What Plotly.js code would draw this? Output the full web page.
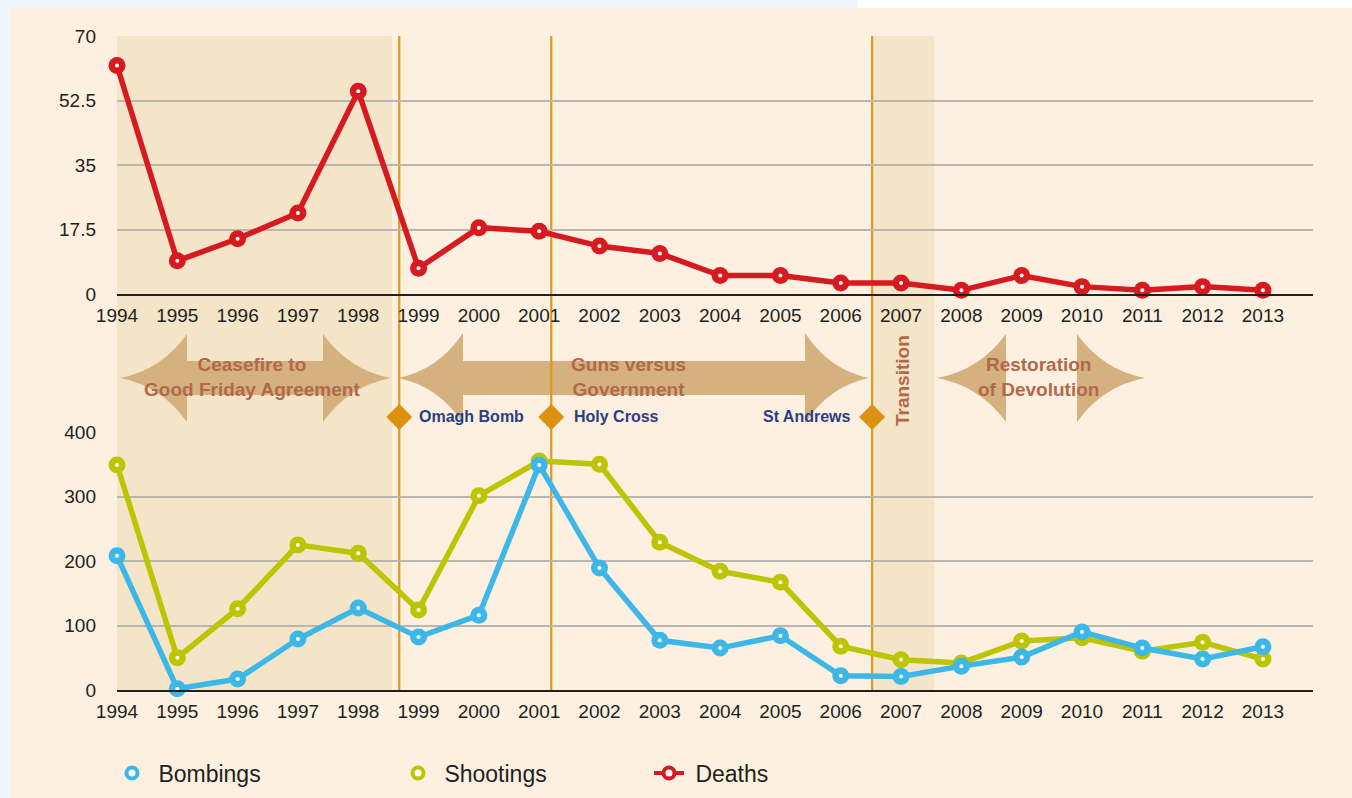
<!DOCTYPE html>
<html><head><meta charset="utf-8">
<script src="https://cdn.plot.ly/plotly-3.0.1.min.js"></script>
<style>html,body{margin:0;padding:0;background:#eef7fe;}#chart{width:1352px;height:798px;}</style>
</head><body><div id="chart"></div>
<script>
// ---- data ----
const years = [1994,1995,1996,1997,1998,1999,2000,2001,2002,2003,2004,2005,2006,2007,2008,2009,2010,2011,2012,2013];
const deaths = [62,9,15,22,55,7,18,17,13,11,5,5,3,3,1,5,2,1,2,1];
const shootings = [349,50,126,225,212,124,301,355,350,229,184,167,68,47,42,76,81,60,74,48];
const bombings = [208,2,17,79,127,82,116,349,189,77,65,84,22,21,37,51,90,65,48,67];
const deathTicks = [0,17.5,35,52.5,70];
const deathTickText = ['0','17.5','35','52.5','70'];
const incidentTicks = [0,100,200,300,400];
const incidentTickText = ['0','100','200','300','400'];
const seriesNames = ['Bombings','Shootings','Deaths'];
const eventNames = ['Omagh Bomb','Holy Cross','St Andrews'];
const eventYears = [1998.68,2001.2,2006.52];
const periodLabels = ['Ceasefire to<br>Good Friday Agreement','Guns versus<br>Government','Restoration<br>of Devolution'];
const shadedStarts = [1994,2006.52];
const shadedEnds = [1998.56,2007.55];

// ---- layout helpers (pixel -> paper) ----
const L=117,R=1313,T=36,B=690,W=R-L,H=B-T;
const px=x=>(x-L)/W, py=y=>(B-y)/H;
const P=(x,y)=>px(x)+','+py(y);
const FONT='Liberation Sans, Arial, Helvetica, sans-serif';
const colB='#3db7e7', colS='#bdc400', colD='#d71920';
const xToPx = yr => L + (yr-1994)*(1263-117)/19;

function arrowPath(lt,lb,rb,rt,cy,hh,sh){
  const k=0.62,m=0.18;
  const lcx=lt+k*(lb-lt), rcx=rt+k*(rb-rt);
  return 'M'+P(lt,cy)+' Q'+P(lcx,cy-m*hh)+' '+P(lb,cy-hh)+' L'+P(lb,cy-sh)+' L'+P(rb,cy-sh)+' L'+P(rb,cy-hh)+
    ' Q'+P(rcx,cy-m*hh)+' '+P(rt,cy)+' Q'+P(rcx,cy+m*hh)+' '+P(rb,cy+hh)+' L'+P(rb,cy+sh)+' L'+P(lb,cy+sh)+
    ' L'+P(lb,cy+hh)+' Q'+P(lcx,cy+m*hh)+' '+P(lt,cy)+' Z';
}
function diamond(x,y,r){
  return 'M'+P(x-r,y)+' L'+P(x,y-r)+' L'+P(x+r,y)+' L'+P(x,y+r)+' Z';
}

const shapes = [
  {type:'rect',xref:'paper',yref:'paper',x0:px(10),x1:px(1352),y0:py(8),y1:py(798),fillcolor:'#fdf0e0',line:{width:0},layer:'below'},
  {type:'rect',xref:'paper',yref:'paper',x0:px(858),x1:px(1352),y0:py(0),y1:py(8),fillcolor:'#ffffff',line:{width:0},layer:'below'},
];
for(let i=0;i<shadedStarts.length;i++){
  shapes.push({type:'rect',xref:'x',yref:'paper',x0:shadedStarts[i],x1:shadedEnds[i],y0:0,y1:1,fillcolor:'#f4e4c8',line:{width:0},layer:'below'});
}
shapes.push({type:'path',xref:'paper',yref:'paper',path:arrowPath(120,187,323,391,378,44,17),fillcolor:'#d4b17f',line:{width:0},layer:'below'});
shapes.push({type:'path',xref:'paper',yref:'paper',path:arrowPath(398,463,805,869,378,45,17),fillcolor:'#d4b17f',line:{width:0},layer:'below'});
shapes.push({type:'path',xref:'paper',yref:'paper',path:arrowPath(937,1006,1077,1145,378,44,0),fillcolor:'#d4b17f',line:{width:0},layer:'below'});
for(let i=0;i<eventYears.length;i++){
  shapes.push({type:'line',xref:'x',yref:'paper',x0:eventYears[i],x1:eventYears[i],y0:0,y1:1,line:{color:'#de9a1e',width:2.2},layer:'below'});
  shapes.push({type:'path',xref:'paper',yref:'paper',path:diamond(xToPx(eventYears[i]),417,13),fillcolor:'#dc9110',line:{width:0},layer:'below'});
}

const annotations = [
  {xref:'paper',yref:'paper',x:px(252),y:py(377),text:'<b>'+periodLabels[0]+'</b>',showarrow:false,font:{family:FONT,size:19,color:'#b2694a'},xanchor:'center',yanchor:'middle'},
  {xref:'paper',yref:'paper',x:px(628),y:py(377),text:'<b>'+periodLabels[1]+'</b>',showarrow:false,font:{family:FONT,size:19,color:'#b2694a'},xanchor:'center',yanchor:'middle'},
  {xref:'paper',yref:'paper',x:px(1038),y:py(377),text:'<b>'+periodLabels[2]+'</b>',showarrow:false,font:{family:FONT,size:19,color:'#b2694a'},xanchor:'center',yanchor:'middle'},
  {xref:'paper',yref:'paper',x:px(902),y:py(380),text:'<b>Transition</b>',textangle:-90,showarrow:false,font:{family:FONT,size:19,color:'#b2694a'},xanchor:'center',yanchor:'middle'},
  {xref:'paper',yref:'paper',x:px(417),y:py(417),text:'<b>'+eventNames[0]+'</b>',showarrow:false,font:{family:FONT,size:16,color:'#2b3e84'},xanchor:'left',yanchor:'middle'},
  {xref:'paper',yref:'paper',x:px(572),y:py(417),text:'<b>'+eventNames[1]+'</b>',showarrow:false,font:{family:FONT,size:16,color:'#2b3e84'},xanchor:'left',yanchor:'middle'},
  {xref:'paper',yref:'paper',x:px(853),y:py(417),text:'<b>'+eventNames[2]+'</b>',showarrow:false,font:{family:FONT,size:16,color:'#2b3e84'},xanchor:'right',yanchor:'middle'},
];

function seriesTraces(x,y,color,xa,ya){
  return [
    {x:x,y:y,xaxis:xa,yaxis:ya,type:'scatter',mode:'lines+markers',line:{color:color,width:5.5},marker:{color:color,size:17},showlegend:false,cliponaxis:false,hoverinfo:'x+y'},
    {x:x,y:y,xaxis:xa,yaxis:ya,type:'scatter',mode:'markers',marker:{color:'#ffffff',size:4},showlegend:false,cliponaxis:false,hoverinfo:'skip'}
  ];
}
const traces = [].concat(
  seriesTraces(years,deaths,colD,'x','y'),
  seriesTraces(years,shootings,colS,'x2','y2'),
  seriesTraces(years,bombings,colB,'x2','y2'),
  [
    {x:[null],y:[null],xaxis:'x2',yaxis:'y2',type:'scatter',mode:'markers',name:'\u00a0'+seriesNames[0],legend:'legend',marker:{color:'#ffffff',size:11,line:{color:colB,width:4}}},
    {x:[null],y:[null],xaxis:'x2',yaxis:'y2',type:'scatter',mode:'markers',name:'\u00a0'+seriesNames[1],legend:'legend2',marker:{color:'#ffffff',size:11,line:{color:colS,width:4}}},
    {x:[null],y:[null],xaxis:'x',yaxis:'y',type:'scatter',mode:'lines+markers',name:'\u00a0'+seriesNames[2],legend:'legend3',line:{color:colD,width:4},marker:{color:'#ffffff',size:11,line:{color:colD,width:4}}}
  ]
);

const xCommon = {range:[1994,2013.83],tickvals:years,ticktext:years.map(String),showgrid:false,showline:true,linecolor:'#231f20',linewidth:2,ticks:'',zeroline:false,tickfont:{family:FONT,size:19,color:'#231f20'},ticklabelstandoff:3,fixedrange:true};
const yCommon = {showgrid:true,gridcolor:'#bab6ae',gridwidth:2,zeroline:false,showline:false,ticks:'',tickfont:{family:FONT,size:19,color:'#231f20'},ticklabelstandoff:20,fixedrange:true};
const legCommon = {orientation:'h',yanchor:'middle',xanchor:'left',bgcolor:'rgba(0,0,0,0)',borderwidth:0,font:{family:FONT,size:23,color:'#231f20'},y:py(773)};

const layout = {
  width:1352,height:798,autosize:false,
  margin:{l:L,r:1352-R,t:T,b:798-B,pad:0,autoexpand:false},
  paper_bgcolor:'#eef7fe',plot_bgcolor:'rgba(0,0,0,0)',
  font:{family:FONT,color:'#231f20'},
  xaxis:Object.assign({},xCommon,{anchor:'y',domain:[0,1]}),
  xaxis2:Object.assign({},xCommon,{anchor:'y2',domain:[0,1],matches:'x'}),
  yaxis:Object.assign({},yCommon,{domain:[py(294),1],range:[0,70],tickvals:deathTicks,ticktext:deathTickText,anchor:'x'}),
  yaxis2:Object.assign({},yCommon,{domain:[0,py(432)],range:[0,400],tickvals:incidentTicks,ticktext:incidentTickText,anchor:'x2'}),
  legend:Object.assign({},legCommon,{x:px(112)}),
  legend2:Object.assign({},legCommon,{x:px(398)}),
  legend3:Object.assign({},legCommon,{x:px(649)}),
  shapes:shapes,
  annotations:annotations,
  hovermode:false
};
Plotly.newPlot('chart',traces,layout,{displayModeBar:false,staticPlot:true});
</script></body></html>
